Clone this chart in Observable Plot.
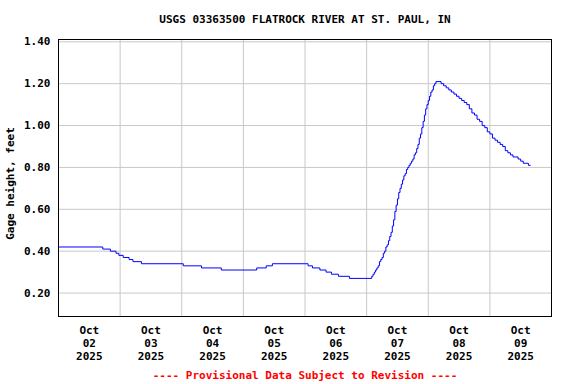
<!DOCTYPE html>
<html><head><meta charset="utf-8">
<script src="https://cdn.jsdelivr.net/npm/d3@7"></script>
<script src="https://cdn.jsdelivr.net/npm/@observablehq/plot@0.6"></script>
<style>
html,body{margin:0;padding:0;background:#fff;}
</style></head><body><div id="chart"></div>
<script>
const title = "USGS 03363500 FLATROCK RIVER AT ST. PAUL, IN";
const yLabel = "Gage height, feet";
const footer = "---- Provisional Data Subject to Revision ----";
const startDay = "2025-10-02T00:00:00Z";
const endDay = "2025-10-10T00:00:00Z";

// Readings: hours after Oct 02 00:00 and gage height (ft)
const hoursAfterStart = [
  0, 17.25, 20.2, 22.4, 23.5, 25.2, 27.5, 29, 32.3, 48.6, 55.7, 63.4, 77.2, 80.9, 83.3,
  97.2, 98.9, 101.8, 104.2, 106.3, 109, 113.3,
  122, 122.5, 123, 123.5, 124, 124.5, 125, 125.5, 126, 126.5, 127, 127.5, 128, 128.5,
  129, 129.5, 130, 130.5, 131, 131.5, 132, 132.5, 133, 133.5, 134, 134.5, 135, 135.5,
  136, 136.5, 137, 137.5, 138, 138.5, 139, 139.5, 140, 140.5, 141, 141.5, 142, 142.5,
  143, 143.5, 144, 144.5, 145, 145.5, 146, 146.5, 147,
  149, 150, 151, 152, 153, 154, 155, 156, 157, 158, 159, 160, 161, 162, 163, 164, 165,
  166, 167, 168, 169, 170, 171, 172, 173, 174, 175, 176, 177, 179, 180, 181, 183, 183.75
];
const gageHeight = [
  0.42, 0.41, 0.40, 0.39, 0.38, 0.37, 0.36, 0.35, 0.34, 0.33, 0.32, 0.31, 0.32, 0.33, 0.34,
  0.33, 0.32, 0.31, 0.30, 0.29, 0.28, 0.27,
  0.28, 0.29, 0.30, 0.31, 0.32, 0.33, 0.35, 0.36, 0.37, 0.39, 0.40, 0.42, 0.43, 0.45,
  0.47, 0.49, 0.52, 0.55, 0.59, 0.62, 0.65, 0.68, 0.70, 0.72, 0.74, 0.76, 0.77, 0.79,
  0.80, 0.81, 0.82, 0.83, 0.84, 0.86, 0.87, 0.89, 0.91, 0.94, 0.96, 0.99, 1.02, 1.05,
  1.08, 1.10, 1.12, 1.14, 1.16, 1.17, 1.19, 1.20, 1.21,
  1.20, 1.19, 1.18, 1.17, 1.16, 1.15, 1.14, 1.13, 1.12, 1.11, 1.10, 1.08, 1.06, 1.05, 1.03, 1.02, 1.00,
  0.99, 0.97, 0.96, 0.94, 0.93, 0.92, 0.91, 0.90, 0.88, 0.87, 0.86, 0.85, 0.84, 0.83, 0.82, 0.81, 0.81
];

const yTicks = [0.20, 0.40, 0.60, 0.80, 1.00, 1.20, 1.40];
const tickDays = ["2025-10-02", "2025-10-03", "2025-10-04", "2025-10-05", "2025-10-06", "2025-10-07", "2025-10-08", "2025-10-09"];
const tickLabels = ["Oct\n02\n2025", "Oct\n03\n2025", "Oct\n04\n2025", "Oct\n05\n2025", "Oct\n06\n2025", "Oct\n07\n2025", "Oct\n08\n2025", "Oct\n09\n2025"];
const gridDays = ["2025-10-03", "2025-10-04", "2025-10-05", "2025-10-06", "2025-10-07", "2025-10-08", "2025-10-09"];

const t0 = new Date(startDay).getTime();
const data = hoursAfterStart.map((h, i) => ({date: new Date(t0 + h * 3600e3), value: gageHeight[i]}));
const labelDates = tickDays.map(d => new Date(d + "T12:00:00Z"));
const labelByTime = new Map(labelDates.map((d, i) => [+d, tickLabels[i]]));
const gridDates = gridDays.map(d => new Date(d + "T00:00:00Z"));

const font = "'DejaVu Sans Mono', monospace";
const chart = Plot.plot({
  width: 576,
  height: 384,
  marginTop: 39,
  marginLeft: 58,
  marginRight: 25,
  marginBottom: 68,
  style: {fontFamily: font, fontSize: "11px", fontWeight: "bold", background: "#fff", color: "#000"},
  x: {type: "utc", domain: [new Date(startDay), new Date(endDay)]},
  y: {domain: [0.088, 1.411]},
  marks: [
    Plot.gridY(yTicks, {stroke: "#c8c8c8", strokeOpacity: 1}),
    Plot.gridX(gridDates, {stroke: "#c8c8c8", strokeOpacity: 1}),
    Plot.line(data, {x: "date", y: "value", curve: "step-after", stroke: "#0000ff", strokeWidth: 1}),
    Plot.frame({stroke: "#000"}),
    Plot.axisY(yTicks, {tickSize: 0, tickPadding: 8, tickFormat: d => d.toFixed(2), label: null}),
    Plot.axisX(labelDates, {tickSize: 0, tickPadding: 9, tickFormat: d => labelByTime.get(+d), label: null, lineHeight: 1.15}),
    Plot.text([title], {frameAnchor: "top", dy: -20, text: d => d, lineAnchor: "middle", fill: "#000"}),
    Plot.text([footer], {frameAnchor: "bottom", dy: 59, text: d => d, lineAnchor: "middle", fill: "#ff0000"}),
    Plot.text([yLabel], {frameAnchor: "left", dx: -48, dy: 5.5, rotate: -90, textAnchor: "middle", text: d => d, lineAnchor: "middle", fill: "#000"})
  ]
});
document.getElementById("chart").appendChild(chart);
</script>
</body></html>
